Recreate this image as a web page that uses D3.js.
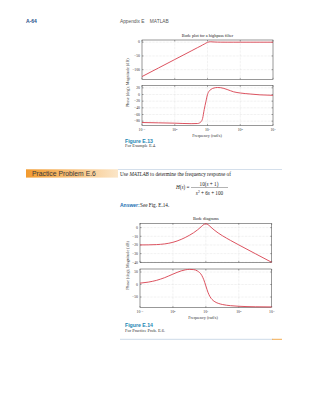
<!DOCTYPE html>
<html><head><meta charset="utf-8">
<script src="https://cdn.jsdelivr.net/npm/d3@7"></script>
<style>body{margin:0;background:#fff}svg{display:block}</style>
</head><body>
<svg id="c" width="320" height="412"></svg>
<script>
// ---- data ----
const freqTicks = [0.1, 1, 10, 100, 1000];
const freqTickExp = ["\u22121", "0", "1", "2", "3"];

// Figure E.13 : highpass filter
const hpFreq  = [0.1, 0.316, 1, 3.16, 5.01, 6.31, 7.08, 7.94, 8.91, 10, 11.2, 12.6, 15.8, 20, 25.1, 39.8, 63.1, 100, 200, 398, 1000];
const hpMag   = [-125, -94, -63, -32, -19.5, -13.5, -10, -7, -3.5, -0.5, 1.2, 1.5, 0.8, 0.3, 0.1, 0, 0, 0, 0, 0, 0];
const hpPhase = [-84, -85, -86, -87.5, -87, -82, -72, -45, -22, 0, 10, 15, 19.5, 21, 20.5, 15, 8, 4.5, 1.5, -1, -2.5];
const hpMagTicks = [0, -50, -100];
const hpPhaseTicks = [20, 0, -20, -40, -60, -80];

// Figure E.14 : Bode diagrams
const bdFreq  = [0.1, 0.178, 0.316, 0.562, 1, 1.78, 2.37, 3.16, 4.22, 5.62, 7.5, 8.66, 10, 11.55, 13.34, 15.4, 17.78, 23.71, 31.62, 56.23, 100, 316, 1000];
const bdMag   = [-19.96, -19.86, -19.58, -18.78, -16.92, -13.58, -11.39, -8.86, -5.96, -2.51, 1.62, 3.59, 4.48, 3.56, 1.57, -0.6, -2.63, -6.18, -9.27, -14.77, -19.93, -29.99, -40];
const bdPhase = [5.4, 9.5, 16.5, 27.4, 41.5, 54.4, 58.6, 60.5, 59.6, 53.7, 36.6, 19.1, -5.7, -30.7, -48.5, -59.7, -67.0, -75.3, -79.9, -84.7, -87.1, -89.1, -89.7];
const bdMagTicks = [0, -10, -20, -30, -40];
const bdPhaseTicks = [50, 0, -50];

// ---- drawing ----
const svg = d3.select("#c");
svg.append("rect").attr("width", 320).attr("height", 412).attr("fill", "#fff");
const SERIF = "'Liberation Serif','DejaVu Serif',serif";
const SANS = "'Liberation Sans','DejaVu Sans',sans-serif";
const RED = "#d8404e";

function panel(g, x, y0, y1, domain, ticks, freq, vals, showX) {
  const y = d3.scaleLinear().domain(domain).range([y1, y0]);
  const [xa, xb] = x.range();
  // grid
  g.append("g").selectAll("line").data(freqTicks.slice(1, -1)).join("line")
    .attr("x1", d => x(d)).attr("x2", d => x(d)).attr("y1", y0).attr("y2", y1)
    .attr("stroke", "#c8c8c8").attr("stroke-width", 0.4).attr("stroke-dasharray", "0.6,0.8");
  g.append("g").selectAll("line").data(ticks).join("line")
    .attr("x1", xa).attr("x2", xb).attr("y1", d => y(d)).attr("y2", d => y(d))
    .attr("stroke", "#c8c8c8").attr("stroke-width", 0.4).attr("stroke-dasharray", "0.6,0.8");
  // ticks
  const tk = g.append("g").attr("stroke", "#333").attr("stroke-width", 0.4);
  freqTicks.forEach(f => {
    tk.append("line").attr("x1", x(f)).attr("x2", x(f)).attr("y1", y1).attr("y2", y1 - 1.5);
    tk.append("line").attr("x1", x(f)).attr("x2", x(f)).attr("y1", y0).attr("y2", y0 + 1.5);
  });
  ticks.forEach(t => {
    tk.append("line").attr("x1", xa).attr("x2", xa + 1.5).attr("y1", y(t)).attr("y2", y(t));
    tk.append("line").attr("x1", xb).attr("x2", xb - 1.5).attr("y1", y(t)).attr("y2", y(t));
  });
  // box
  g.append("rect").attr("x", xa).attr("y", y0).attr("width", xb - xa).attr("height", y1 - y0)
    .attr("fill", "none").attr("stroke", "#333").attr("stroke-width", 0.5);
  // y tick labels
  g.append("g").selectAll("text").data(ticks).join("text")
    .attr("x", xa - 2).attr("y", d => y(d) + 1.3).attr("text-anchor", "end")
    .attr("font-family", SERIF).attr("font-size", 3.8).attr("fill", "#333")
    .text(d => d < 0 ? "\u2212" + Math.abs(d) : d);
  // curve
  const line = d3.line().x((d, i) => x(freq[i])).y(d => y(d)).curve(d3.curveMonotoneX);
  g.append("path").datum(vals).attr("d", line).attr("fill", "none")
    .attr("stroke", RED).attr("stroke-width", 0.9);
  if (showX) {
    const xl = g.append("g");
    freqTicks.forEach((f, i) => {
      const t = xl.append("text").attr("x", x(f)).attr("y", y1 + 5.5).attr("text-anchor", "middle")
        .attr("font-family", SERIF).attr("font-size", 3.8).attr("fill", "#333");
      t.append("tspan").text("10");
      t.append("tspan").attr("dy", -1.5).attr("font-size", 2.8).text(freqTickExp[i]);
    });
  }
}

function bode(cfg) {
  const g = svg.append("g");
  const x = d3.scaleLog().domain([0.1, 1000]).range([cfg.x0, cfg.x1]);
  g.append("text").attr("x", (cfg.x0 + cfg.x1) / 2).attr("y", cfg.titleY).attr("text-anchor", "middle")
    .attr("font-family", SERIF).attr("font-size", 4.3).attr("fill", "#222").text(cfg.title);
  panel(g, x, cfg.m0, cfg.m1, cfg.magDomain, cfg.magTicks, cfg.freq, cfg.mag, false);
  panel(g, x, cfg.p0, cfg.p1, cfg.phDomain, cfg.phTicks, cfg.freq, cfg.phase, true);
  g.append("text").attr("transform", `translate(${cfg.yLabelX},${(cfg.m0 + cfg.p1) / 2}) rotate(-90)`)
    .attr("text-anchor", "middle").attr("font-family", SERIF).attr("font-size", 4.2).attr("fill", "#333")
    .text("Phase (deg); Magnitude (dB)");
  g.append("text").attr("x", cfg.xLabelX).attr("y", cfg.p1 + 11.5).attr("text-anchor", "middle")
    .attr("font-family", SERIF).attr("font-size", 4.2).attr("fill", "#333").text("Frequency (rad/s)");
}

// header
svg.append("text").attr("x", 26).attr("y", 22.5).attr("font-family", SANS).attr("font-weight", "bold")
  .attr("font-size", 5).attr("fill", "#1f4f8a").text("A-64");
svg.append("text").attr("x", 120).attr("y", 22.5).attr("font-family", SANS)
  .attr("font-size", 4.8).attr("fill", "#555").attr("xml:space", "preserve").text("Appendix E    MATLAB");

bode({title: "Bode plot for a highpass filter", titleY: 36.5, x0: 142, x1: 273,
  m0: 40, m1: 79.3, magDomain: [-135, 8], magTicks: hpMagTicks,
  p0: 85.5, p1: 125.5, phDomain: [-93, 27], phTicks: hpPhaseTicks,
  freq: hpFreq, mag: hpMag, phase: hpPhase, yLabelX: 128.5, xLabelX: 207});

// caption E.13
svg.append("text").attr("x", 125).attr("y", 143.3).attr("font-family", SANS).attr("font-weight", "bold")
  .attr("font-size", 5.2).attr("fill", "#1b86b3").text("Figure E.13");
svg.append("text").attr("x", 125).attr("y", 147.3).attr("font-family", SERIF)
  .attr("font-size", 4.4).attr("fill", "#333").text("For Example E.4.");

// practice problem bar
const grad = svg.append("defs").append("linearGradient").attr("id", "pg");
grad.append("stop").attr("offset", "0%").attr("stop-color", "#f29a2e");
grad.append("stop").attr("offset", "100%").attr("stop-color", "#fbe6c8");
svg.append("rect").attr("x", 26).attr("y", 169.3).attr("width", 92).attr("height", 8.3).attr("fill", "url(#pg)");
svg.append("line").attr("x1", 118).attr("x2", 282).attr("y1", 169.5).attr("y2", 169.5)
  .attr("stroke", "#a9bfd6").attr("stroke-width", 0.5);
svg.append("text").attr("x", 32).attr("y", 175.8).attr("font-family", SANS)
  .attr("font-size", 6.8).attr("fill", "#3a3a3a").text("Practice Problem E.6");

const use = svg.append("text").attr("x", 120).attr("y", 175.5).attr("font-family", SERIF)
  .attr("font-size", 5.2).attr("fill", "#222");
use.append("tspan").text("Use ");
use.append("tspan").attr("font-style", "italic").text("MATLAB");
use.append("tspan").text(" to determine the frequency response of");

// equation
const eq = svg.append("g").attr("font-family", SERIF).attr("font-size", 5.2).attr("fill", "#222");
const hs = eq.append("text").attr("x", 176).attr("y", 189.3);
hs.append("tspan").attr("font-style", "italic").text("H");
hs.append("tspan").text("(");
hs.append("tspan").attr("font-style", "italic").text("s");
hs.append("tspan").text(") =");
const num = eq.append("text").attr("x", 209).attr("y", 185.5).attr("text-anchor", "middle");
num.append("tspan").text("10(");
num.append("tspan").attr("font-style", "italic").text("s");
num.append("tspan").text(" + 1)");
eq.append("line").attr("x1", 191).attr("x2", 228).attr("y1", 187.5).attr("y2", 187.5)
  .attr("stroke", "#222").attr("stroke-width", 0.35);
const den = eq.append("text").attr("x", 209.5).attr("y", 194.5).attr("text-anchor", "middle");
den.append("tspan").attr("font-style", "italic").text("s");
den.append("tspan").attr("dy", -1.8).attr("font-size", 3.6).text("2");
den.append("tspan").attr("dy", 1.8).text(" + 6");
den.append("tspan").attr("font-style", "italic").text("s");
den.append("tspan").text(" + 100");

// answer
svg.append("text").attr("x", 120).attr("y", 207.3).attr("font-family", SANS).attr("font-weight", "bold")
  .attr("font-size", 5).attr("fill", "#1b6fb3").text("Answer:");
svg.append("text").attr("x", 140).attr("y", 207.3).attr("font-family", SERIF)
  .attr("font-size", 5.2).attr("fill", "#222").text("See Fig. E.14.");

bode({title: "Bode diagrams", titleY: 220.3, x0: 140, x1: 271.7,
  m0: 223.3, m1: 262.3, magDomain: [-40, 5], magTicks: bdMagTicks,
  p0: 269, p1: 307.5, phDomain: [-92, 62], phTicks: bdPhaseTicks,
  freq: bdFreq, mag: bdMag, phase: bdPhase, yLabelX: 128.5, xLabelX: 203});

// caption E.14
svg.append("text").attr("x", 125).attr("y", 327).attr("font-family", SANS).attr("font-weight", "bold")
  .attr("font-size", 5.2).attr("fill", "#1b86b3").text("Figure E.14");
svg.append("text").attr("x", 125).attr("y", 331.8).attr("font-family", SERIF)
  .attr("font-size", 4.4).attr("fill", "#333").text("For Practice Prob. E.6.");

// bottom rule
svg.append("line").attr("x1", 120).attr("x2", 273).attr("y1", 339.3).attr("y2", 339.3)
  .attr("stroke", "#a9bfd6").attr("stroke-width", 0.6);
svg.append("line").attr("x1", 272).attr("x2", 282).attr("y1", 339.3).attr("y2", 339.3)
  .attr("stroke", "#f2a23c").attr("stroke-width", 0.9);
</script>
</body></html>
